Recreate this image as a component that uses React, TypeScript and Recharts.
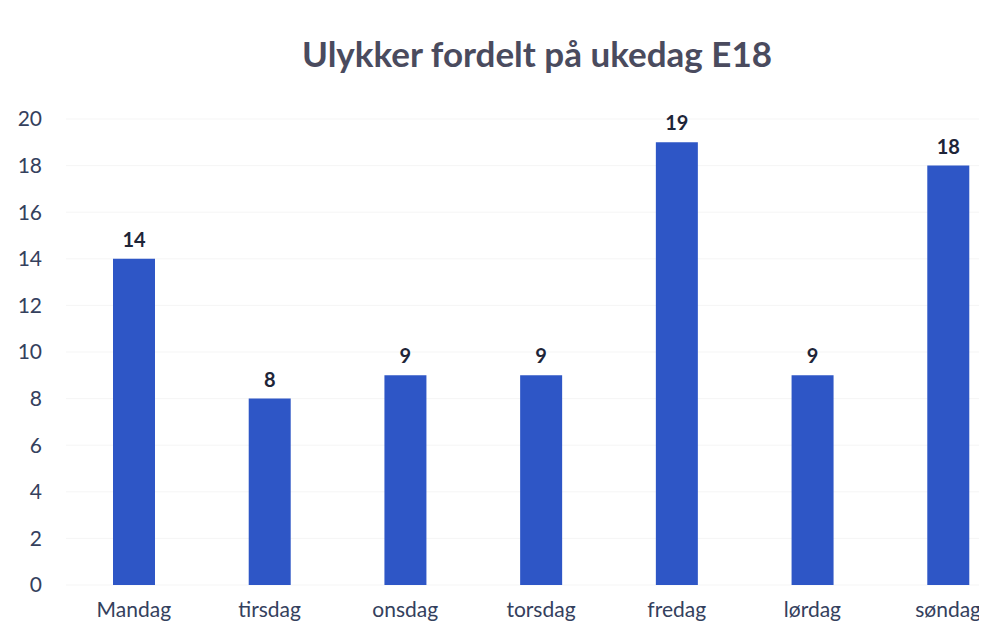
import { Bar, BarChart, CartesianGrid, LabelList, XAxis, YAxis } from 'recharts'

// Ulykker per ukedag, E18
const days = ['Mandag', 'tirsdag', 'onsdag', 'torsdag', 'fredag', 'lørdag', 'søndag']
const accidents = [14, 8, 9, 9, 19, 9, 18]
const yTicks = [0, 2, 4, 6, 8, 10, 12, 14, 16, 18, 20]

const data = days.map((day, i) => ({ day, accidents: accidents[i] }))

const font = 'Lato, "Open Sans", sans-serif'
const axisColor = '#34405d'

export default function App() {
  return (
    <div style={{ position: 'relative', width: 979, height: 621, overflow: 'hidden', background: '#fff', fontFamily: font }}>
      <div
        style={{
          position: 'absolute',
          left: 0,
          width: 1058,
          top: 24,
          textAlign: 'center',
          fontSize: 35,
          fontWeight: 700,
          color: '#4a4b5e',
        }}
      >
        Ulykker fordelt på ukedag E18
      </div>
      <BarChart width={1008} height={621} data={data} margin={{ top: 111, right: 0, bottom: 0, left: 0 }}>
        <CartesianGrid vertical={false} stroke="#f5f5f5" />
        <XAxis
          dataKey="day"
          axisLine={false}
          tickLine={false}
          tickSize={0}
          tickMargin={17}
          height={44}
          tick={{ fill: axisColor, fontSize: 21, fontFamily: font }}
        />
        <YAxis
          domain={[0, 20]}
          ticks={yTicks}
          axisLine={false}
          tickLine={false}
          tickSize={0}
          tickMargin={24}
          width={58}
          tick={{ fill: axisColor, fontSize: 21, fontFamily: font }}
        />
        <Bar dataKey="accidents" fill="#2e56c6" barSize={42} isAnimationActive={false}>
          <LabelList
            dataKey="accidents"
            position="top"
            offset={12}
            style={{ fill: '#1e2538', fontSize: 20, fontWeight: 700, fontFamily: font }}
          />
        </Bar>
      </BarChart>
    </div>
  )
}
